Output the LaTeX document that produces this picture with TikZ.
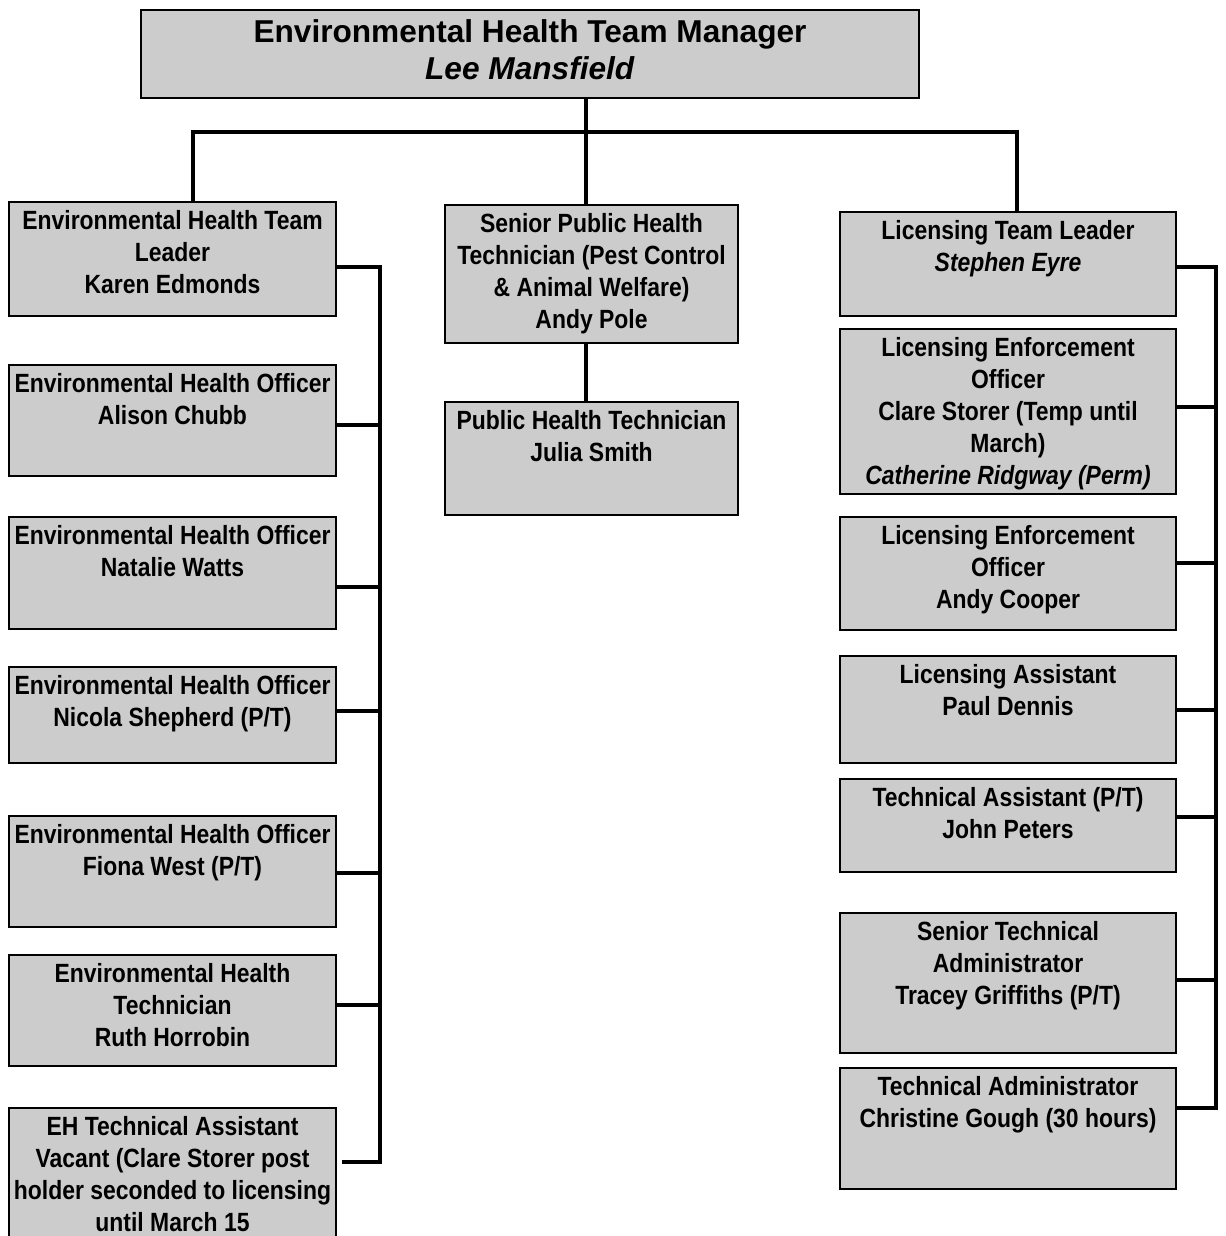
\documentclass[tikz,border=0pt]{standalone}
\usepackage{fontspec}
\setmainfont{Liberation Sans}
\newfontfamily\boxfont{Liberation Sans}[FakeStretch=0.87]
\definecolor{boxgray}{RGB}{204,204,204}
\tikzset{
  post/.style={draw=black, fill=boxgray, line width=1.2pt, inner sep=0pt},
  leftcol/.style={post, minimum width=6.54cm},
  midcol/.style={post, minimum width=5.86cm},
  rightcol/.style={post, minimum width=6.72cm},
  roletext/.style={anchor=north, align=center, inner sep=0pt, yshift=-0.19cm,
    font=\boxfont\bfseries\fontsize{15}{18.2}\selectfont},
  link/.style={line width=2.7pt, line cap=rect},
}

\begin{document}
\begin{tikzpicture}[x=0.02cm, y=-0.02cm]
\useasboundingbox (0,0) rectangle (1225,1236);
\clip (0,0) rectangle (1225,1236);

% manager
\node[post, minimum width=15.56cm, minimum height=1.76cm] (mgr) at (530,54) {};
\node[align=center, inner sep=0pt, font=\bfseries\fontsize{18}{21}\selectfont] (mgr-n) at (530,50) {Environmental Health Team Manager\\\textit{Lee Mansfield}};

% environmental health column
\node[leftcol, minimum height=2.28cm] (ehtl) at (172.5,259) {};
\node[roletext] (ehtl-n) at (ehtl.north) {Environmental Health Team\\Leader\\Karen Edmonds};
\node[leftcol, minimum height=2.22cm] (eho1) at (172.5,420.5) {};
\node[roletext] (eho1-n) at (eho1.north) {Environmental Health Officer\\Alison Chubb};
\node[leftcol, minimum height=2.24cm] (eho2) at (172.5,573) {};
\node[roletext] (eho2-n) at (eho2.north) {Environmental Health Officer\\Natalie Watts};
\node[leftcol, minimum height=1.92cm] (eho3) at (172.5,715) {};
\node[roletext] (eho3-n) at (eho3.north) {Environmental Health Officer\\Nicola Shepherd (P/T)};
\node[leftcol, minimum height=2.22cm] (eho4) at (172.5,871.5) {};
\node[roletext] (eho4-n) at (eho4.north) {Environmental Health Officer\\Fiona West (P/T)};
\node[leftcol, minimum height=2.22cm] (eht) at (172.5,1010.5) {};
\node[roletext] (eht-n) at (eht.north) {Environmental Health\\Technician\\Ruth Horrobin};
\node[leftcol, minimum height=3cm] (ehta) at (172.5,1183) {};
\node[roletext] (ehta-n) at (ehta.north) {EH Technical Assistant\\Vacant (Clare Storer post\\holder seconded to licensing\\until March 15};

% public health column
\node[midcol, minimum height=2.76cm] (spht) at (591.5,274) {};
\node[roletext] (spht-n) at (spht.north) {Senior Public Health\\Technician (Pest Control\\\& Animal Welfare)\\Andy Pole};
\node[midcol, minimum height=2.26cm] (pht) at (591.5,458.5) {};
\node[roletext] (pht-n) at (pht.north) {Public Health Technician\\Julia Smith};

% licensing column
\node[rightcol, minimum height=2.08cm] (ltl) at (1008,264) {};
\node[roletext] (ltl-n) at (ltl.north) {Licensing Team Leader\\\textit{Stephen Eyre}};
\node[rightcol, minimum height=3.3cm] (leo1) at (1008,411.5) {};
\node[roletext] (leo1-n) at (leo1.north) {Licensing Enforcement\\Officer\\Clare Storer (Temp until\\March)\\\textit{Catherine Ridgway (Perm)}};
\node[rightcol, minimum height=2.26cm] (leo2) at (1008,573.5) {};
\node[roletext] (leo2-n) at (leo2.north) {Licensing Enforcement\\Officer\\Andy Cooper};
\node[rightcol, minimum height=2.14cm] (la) at (1008,709.5) {};
\node[roletext] (la-n) at (la.north) {Licensing Assistant\\Paul Dennis};
\node[rightcol, minimum height=1.86cm] (ta) at (1008,825.5) {};
\node[roletext] (ta-n) at (ta.north) {Technical Assistant (P/T)\\John Peters};
\node[rightcol, minimum height=2.8cm] (sta) at (1008,983) {};
\node[roletext] (sta-n) at (sta.north) {Senior Technical\\Administrator\\Tracey Griffiths (P/T)};
\node[rightcol, minimum height=2.42cm] (tadm) at (1008,1128.5) {};
\node[roletext] (tadm-n) at (tadm.north) {Technical Administrator\\Christine Gough (30 hours)};

% top level links
\coordinate (hub) at (586,132);
\coordinate (lt) at (193,132);
\coordinate (rt) at (1017,132);
\draw[link] (ehtl.north -| lt) |- (rt) -- (ltl.north -| rt);
\draw[link] (mgr.south -| hub) -- (spht.north -| hub);
\draw[link] (spht.south -| hub) -- (pht.north -| hub);

% left bus
\coordinate (lbus) at (380,267);
\coordinate (lbus-end) at (380,1162);
\draw[link] (lbus) -- (lbus-end);
\foreach \b/\y in {ehtl/267, eho1/425, eho2/587, eho3/711, eho4/873, eht/1005}
  \draw[link] (\b.east |- 0,\y) -- (lbus |- 0,\y);
\draw[link] ([xshift=0.14cm]ehta.east |- lbus-end) -- (lbus-end);

% right bus
\coordinate (rbus) at (1216,267);
\coordinate (rbus-end) at (1216,1108);
\draw[link] (rbus) -- (rbus-end);
\foreach \b/\y in {ltl/267, leo1/407, leo2/563, la/710, ta/817, sta/980, tadm/1108}
  \draw[link] (\b.east |- 0,\y) -- (rbus |- 0,\y);
\end{tikzpicture}
\end{document}
